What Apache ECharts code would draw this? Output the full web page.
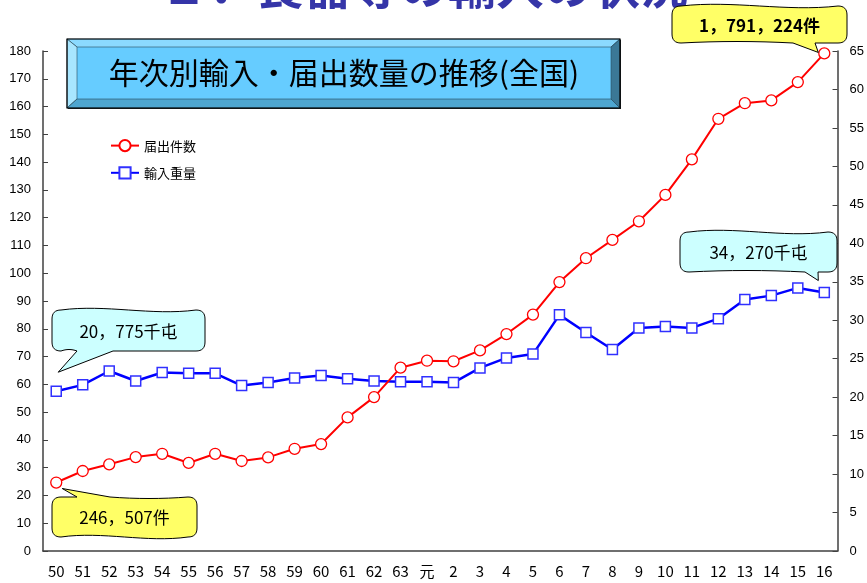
<!DOCTYPE html>
<html><head><meta charset="utf-8">
<script src="https://cdn.jsdelivr.net/npm/echarts@6/dist/echarts.min.js"></script>
<style>html,body{margin:0;padding:0;background:#fff}#c{width:867px;height:583px}</style>
</head><body><div id="c"></div>
<script>
// Fiscal years (Showa 50-63, Heisei 元-16)
const categories = ['50','51','52','53','54','55','56','57','58','59','60','61','62','63','元','2','3','4','5','6','7','8','9','10','11','12','13','14','15','16'];
// 届出件数 (万件) - left axis
const filings = [24.65, 28.8, 31.2, 33.8, 35.0, 31.7, 35.0, 32.4, 33.7, 36.8, 38.5, 48.1, 55.4, 66.0, 68.5, 68.3, 72.2, 78.1, 85.1, 96.8, 105.4, 112.0, 118.7, 128.2, 141.0, 155.6, 161.2, 162.2, 168.8, 179.12];
// 輸入重量 (千屯 / 1000) - right axis
const imports = [20.775, 21.6, 23.4, 22.1, 23.2, 23.1, 23.1, 21.5, 21.9, 22.5, 22.8, 22.4, 22.1, 22.0, 22.0, 21.9, 23.8, 25.1, 25.6, 30.7, 28.4, 26.2, 29.0, 29.2, 29.0, 30.2, 32.7, 33.2, 34.2, 33.6];
const seriesNames = ['届出件数', '輸入重量'];
const leftAxis = {min: 0, max: 180, interval: 10};
const rightAxis = {min: 0, max: 65, interval: 5};
const mainTitle = '２．食器等の輸入の状況';
const boxTitle = '年次別輸入・届出数量の推移(全国)';
const callouts = ['1，791，224件', '34，270千屯', '20，775千屯', '246，507件'];

const chart = echarts.init(document.getElementById('c'));
const axisColor = '#404040';
const labelFont = '"Liberation Sans", Arial, sans-serif';
const cjk = '"Noto Sans CJK JP", sans-serif';

chart.setOption({
  animation: false,
  backgroundColor: '#fff',
  grid: {left: 43, right: 28, top: 51, bottom: 32},
  legend: {
    orient: 'vertical', left: 105, top: 134, itemWidth: 28, itemHeight: 14, itemGap: 14,
    textStyle: {fontSize: 13, color: '#000', fontFamily: cjk},
    data: seriesNames
  },
  xAxis: {
    type: 'category', data: categories, boundaryGap: true,
    axisLine: {lineStyle: {color: axisColor, width: 1.5}},
    axisTick: {inside: true, length: 5, interval: 0, lineStyle: {color: axisColor}},
    axisLabel: {interval: 0, margin: 13, fontSize: 15, color: '#000', fontFamily: cjk}
  },
  yAxis: [
    {type: 'value', min: leftAxis.min, max: leftAxis.max, interval: leftAxis.interval,
     splitLine: {show: false},
     axisLine: {show: true, lineStyle: {color: axisColor, width: 1.5}},
     axisTick: {show: true, inside: true, length: 5, lineStyle: {color: axisColor}},
     axisLabel: {margin: 12, fontSize: 13, color: '#000', fontFamily: labelFont}},
    {type: 'value', min: rightAxis.min, max: rightAxis.max, interval: rightAxis.interval,
     splitLine: {show: false},
     axisLine: {show: true, lineStyle: {color: axisColor, width: 1.5}},
     axisTick: {show: true, inside: true, length: 5, lineStyle: {color: axisColor}},
     axisLabel: {margin: 12, fontSize: 13, color: '#000', fontFamily: labelFont}}
  ],
  series: [
    {name: seriesNames[0], type: 'line', yAxisIndex: 0, data: filings,
     symbol: 'circle', symbolSize: 11,
     lineStyle: {color: '#ff0000', width: 2},
     itemStyle: {color: '#ffffff', borderColor: '#ff0000', borderWidth: 1.3}, z: 3},
    {name: seriesNames[1], type: 'line', yAxisIndex: 1, data: imports,
     symbol: 'rect', symbolSize: 10,
     lineStyle: {color: '#0000ff', width: 2.5},
     itemStyle: {color: '#ffffff', borderColor: '#3030ff', borderWidth: 1.5}, z: 2}
  ]
});

function quad(pts, p0, c, p1) {
  for (let i = 1; i <= 8; i++) {
    const t = i / 8, u = 1 - t;
    pts.push([u * u * p0[0] + 2 * u * t * c[0] + t * t * p1[0], u * u * p0[1] + 2 * u * t * c[1] + t * t * p1[1]]);
  }
}
function cubic(pts, p0, c1, c2, p1) {
  for (let i = 1; i <= 16; i++) {
    const t = i / 16, u = 1 - t;
    pts.push([
      u * u * u * p0[0] + 3 * u * u * t * c1[0] + 3 * u * t * t * c2[0] + t * t * t * p1[0],
      u * u * u * p0[1] + 3 * u * u * t * c1[1] + 3 * u * t * t * c2[1] + t * t * t * p1[1]]);
  }
}
function bubblePts(x1, y1, x2, y2, t) {
  const r = 9, w = 3, W = x2 - x1;
  const pts = [[x1 + r, y1]];
  if (t.side === 'top') {
    pts.push([t.a, y1], t.tip, [t.b, y1]);
    quad(pts, [t.b, y1], [(t.b + x2 - r) / 2, y1 + w], [x2 - r, y1]);
  } else {
    cubic(pts, [x1 + r, y1], [x1 + W * 0.35, y1 - w * 2], [x1 + W * 0.65, y1 + w * 2], [x2 - r, y1]);
  }
  quad(pts, [x2 - r, y1], [x2, y1], [x2, y1 + r]);
  pts.push([x2, y2 - r]);
  quad(pts, [x2, y2 - r], [x2, y2], [x2 - r, y2]);
  if (t.side === 'bottom') {
    pts.push([t.b, y2], t.tip, [t.a, y2]);
    quad(pts, [t.a, y2], [(t.a + x1 + r) / 2, y2 - w], [x1 + r, y2]);
  } else {
    cubic(pts, [x2 - r, y2], [x1 + W * 0.65, y2 + w * 2], [x1 + W * 0.35, y2 - w * 2], [x1 + r, y2]);
  }
  quad(pts, [x1 + r, y2], [x1, y2], [x1, y2 - r]);
  pts.push([x1, y1 + r]);
  quad(pts, [x1, y1 + r], [x1, y1], [x1 + r, y1]);
  pts.pop();
  return pts;
}

const n = categories.length;
const pLast = chart.convertToPixel({xAxisIndex: 0, yAxisIndex: 0}, [n - 1, filings[n - 1]]);
const pFirst = chart.convertToPixel({xAxisIndex: 0, yAxisIndex: 0}, [0, filings[0]]);
const bFirst = chart.convertToPixel({xAxisIndex: 0, yAxisIndex: 1}, [0, imports[0]]);
const bLast = chart.convertToPixel({xAxisIndex: 0, yAxisIndex: 1}, [n - 1, imports[n - 1]]);

function bubble(x1, y1, x2, y2, tail, fill, text, bold) {
  return [
    {type: 'polygon', shape: {points: bubblePts(x1, y1, x2, y2, tail)},
     style: {fill: fill, stroke: '#000', lineWidth: 1}, z: 10},
    {type: 'text', x: (x1 + x2) / 2, y: (y1 + y2) / 2 + 1, z: 11,
     style: {text: text, fill: '#000', font: (bold ? 'bold ' : '') + '17px ' + cjk,
             textAlign: 'center', textVerticalAlign: 'middle'}}
  ];
}

const X0 = 67, Y0 = 39, X1 = 620, Y1 = 108, IX0 = 77, IY0 = 47, IX1 = 611, IY1 = 99;
const bevel = '#2a4a5a';
const graphics = [
  {type: 'text', x: 160, y: -14, z: 5,
   style: {text: mainTitle, fill: '#3535a8', font: 'bold 48px ' + cjk, textAlign: 'left', textVerticalAlign: 'middle'}},
  {type: 'rect', shape: {x: X0 + 1, y: Y0 + 1, width: X1 - X0, height: Y1 - Y0}, style: {fill: '#1a1a1a'}, z: 5},
  {type: 'rect', shape: {x: IX0, y: IY0, width: IX1 - IX0, height: IY1 - IY0}, style: {fill: '#66ccff'}, z: 6},
  {type: 'polygon', shape: {points: [[X0, Y0], [X1, Y0], [IX1, IY0], [IX0, IY0]]}, style: {fill: '#8bdaff', stroke: bevel, lineWidth: 0.6}, z: 6},
  {type: 'polygon', shape: {points: [[X0, Y0], [IX0, IY0], [IX0, IY1], [X0, Y1]]}, style: {fill: '#a8e6ff', stroke: bevel, lineWidth: 0.6}, z: 6},
  {type: 'polygon', shape: {points: [[X1, Y0], [X1, Y1], [IX1, IY1], [IX1, IY0]]}, style: {fill: '#3b7896', stroke: bevel, lineWidth: 0.6}, z: 6},
  {type: 'polygon', shape: {points: [[X0, Y1], [IX0, IY1], [IX1, IY1], [X1, Y1]]}, style: {fill: '#4ea6d0', stroke: bevel, lineWidth: 0.6}, z: 6},
  {type: 'rect', shape: {x: X0, y: Y0, width: X1 - X0, height: Y1 - Y0}, style: {fill: 'none', stroke: '#000', lineWidth: 1.2}, z: 7},
  {type: 'text', x: (IX0 + IX1) / 2, y: (IY0 + IY1) / 2, z: 8,
   style: {text: boxTitle, fill: '#000', font: '30px ' + cjk, textAlign: 'center', textVerticalAlign: 'middle'}}
].concat(
  bubble(672, 6, 847, 43, {side: 'bottom', a: 793, b: 815, tip: [pLast[0] - 6, pLast[1] - 1]}, '#ffff66', callouts[0], true),
  bubble(680, 232, 837, 272, {side: 'bottom', a: 805, b: 818, tip: [bLast[0] - 6, bLast[1] - 12]}, '#ccffff', callouts[1], false),
  bubble(52, 310, 205, 351, {side: 'bottom', a: 77, b: 113, tip: [bFirst[0] + 2, bFirst[1] - 19]}, '#ccffff', callouts[2], false),
  bubble(52, 497, 197, 537, {side: 'top', a: 77, b: 110, tip: [pFirst[0] + 6, pFirst[1] + 6]}, '#ffff66', callouts[3], false)
);
chart.setOption({graphic: graphics});
</script>
</body></html>
